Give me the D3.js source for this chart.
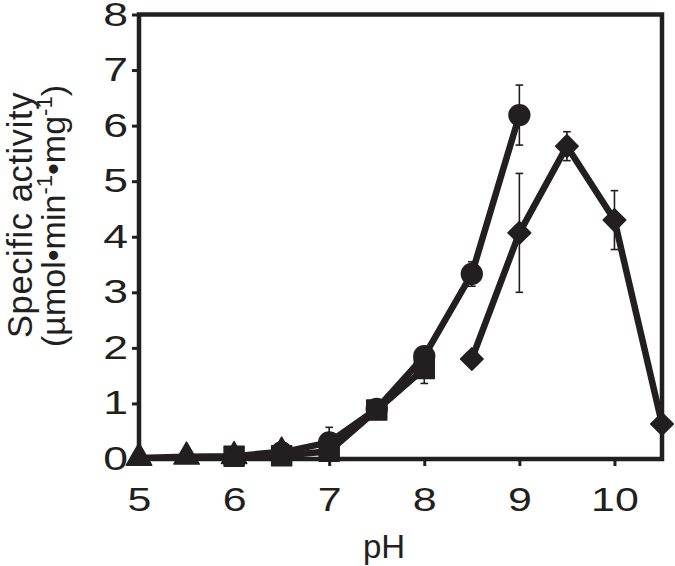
<!DOCTYPE html>
<html>
<head>
<meta charset="utf-8">
<script src="https://cdn.jsdelivr.net/npm/d3@7"></script>
<style>
  html, body { margin: 0; padding: 0; background: #fff; }
  svg { display: block; }
  text { font-family: "Liberation Sans", Arial, sans-serif; fill: #231f20; }
</style>
</head>
<body>
<svg id="chart" width="675" height="566"></svg>
<script>
// ---- data ----
const xTicks = [5, 6, 7, 8, 9, 10];
const yTicks = [0, 1, 2, 3, 4, 5, 6, 7, 8];

const trianglePH = [5, 5.5, 6, 6.5];
const triangleVal = [0.02, 0.04, 0.05, 0.13];
const triangleErr = [0, 0, 0, 0];

const squarePH = [6, 6.5, 7, 7.5, 8];
const squareVal = [0.05, 0.06, 0.14, 0.88, 1.63];
const squareErr = [0, 0, 0, 0, 0.27];

const circlePH = [6.5, 7, 7.5, 8, 8.5, 9];
const circleVal = [0.12, 0.3, 0.9, 1.85, 3.33, 6.19];
const circleErr = [0, 0.27, 0, 0, 0.22, 0.54];

const diamondPH = [8.5, 9, 9.5, 10, 10.5];
const diamondVal = [1.8, 4.07, 5.63, 4.3, 0.63];
const diamondErr = [0, 1.07, 0.26, 0.53, 0];

const xLabel = "pH";
const yLabel1 = "Specific activity";

// ---- chart ----
const ink = "#231f20";
const svg = d3.select("#chart");
const x = d3.scaleLinear().domain([5, 10.5]).range([139, 662]);
const y = d3.scaleLinear().domain([0, 8]).range([459, 14.5]);

// axes
const gx = svg.append("g").attr("transform", `translate(0,${y(0)})`)
  .call(d3.axisBottom(x).tickValues(xTicks).tickFormat(d3.format("d")).tickSize(7).tickPadding(22));
const gy = svg.append("g").attr("transform", `translate(${x(5)},0)`)
  .call(d3.axisLeft(y).tickValues(yTicks).tickFormat(d3.format("d")).tickSize(7).tickPadding(5));
[gx, gy].forEach(g => {
  g.select(".domain").remove();
  g.selectAll(".tick line").attr("stroke", ink).attr("stroke-width", 3);
  g.selectAll(".tick text").attr("font-size", 33).attr("fill", ink)
    .style("font-family", "'Liberation Sans', Arial, sans-serif");
});
// digits in the reference are drawn wide: stretch horizontally
gx.selectAll(".tick text").attr("transform", "scale(1.3,1)");
gy.selectAll(".tick text").attr("x", 0).attr("transform", "translate(-11,0) scale(1.35,1)");

// frame
svg.append("rect")
  .attr("x", x(5)).attr("y", y(8))
  .attr("width", x(10.5) - x(5)).attr("height", y(0) - y(8))
  .attr("fill", "none").attr("stroke", ink).attr("stroke-width", 4.5);

// series
const series = [
  { ph: trianglePH, v: triangleVal, e: triangleErr, sym: d3.symbolTriangle, size: 280, rot: 0 },
  { ph: squarePH, v: squareVal, e: squareErr, sym: d3.symbolSquare, size: 400, rot: 0 },
  { ph: circlePH, v: circleVal, e: circleErr, sym: d3.symbolCircle, size: 340, rot: 0 },
  { ph: diamondPH, v: diamondVal, e: diamondErr, sym: d3.symbolSquare, size: 256, rot: 45 }
];

const line = d3.line().x(d => x(d[0])).y(d => y(d[1]));
const capW = 3.8;

series.forEach(s => {
  const pts = s.ph.map((p, i) => [p, s.v[i], s.e[i]]);
  const g = svg.append("g");
  // error bars
  pts.filter(d => d[2] > 0).forEach(d => {
    const cx = x(d[0]), y1 = y(d[1] + d[2]), y2 = y(d[1] - d[2]);
    g.append("line").attr("x1", cx).attr("x2", cx).attr("y1", y1).attr("y2", y2)
      .attr("stroke", ink).attr("stroke-width", 1.6);
    [y1, y2].forEach(yy => g.append("line").attr("x1", cx - capW).attr("x2", cx + capW)
      .attr("y1", yy).attr("y2", yy).attr("stroke", ink).attr("stroke-width", 1.6));
  });
  g.append("path").datum(pts).attr("d", line)
    .attr("fill", "none").attr("stroke", ink).attr("stroke-width", 6.5)
    .attr("stroke-linejoin", "round");
  g.selectAll(".m").data(pts).enter().append("path")
    .attr("transform", d => `translate(${x(d[0])},${y(d[1])}) rotate(${s.rot})`)
    .attr("d", d3.symbol().type(s.sym).size(s.size))
    .attr("fill", ink).attr("stroke", ink).attr("stroke-width", 1.5).attr("stroke-linejoin", "round");
});

// axis labels
svg.append("text").attr("x", 384).attr("y", 558).attr("text-anchor", "middle")
  .attr("font-size", 33).text(xLabel);

svg.append("text").attr("transform", "translate(31.5,215) rotate(-90)")
  .attr("text-anchor", "middle").attr("font-size", 34.5)
  .attr("letter-spacing", 0.6).text(yLabel1);

const yl2 = svg.append("text").attr("transform", "translate(65,216) rotate(-90)")
  .attr("text-anchor", "middle").attr("font-size", 34);
yl2.append("tspan").text("(µmol•min");
yl2.append("tspan").attr("dy", -13).attr("font-size", 22).text("-1");
yl2.append("tspan").attr("dy", 13).text("•mg");
yl2.append("tspan").attr("dy", -13).attr("font-size", 22).text("-1");
yl2.append("tspan").attr("dy", 13).text(")");
</script>
</body>
</html>
